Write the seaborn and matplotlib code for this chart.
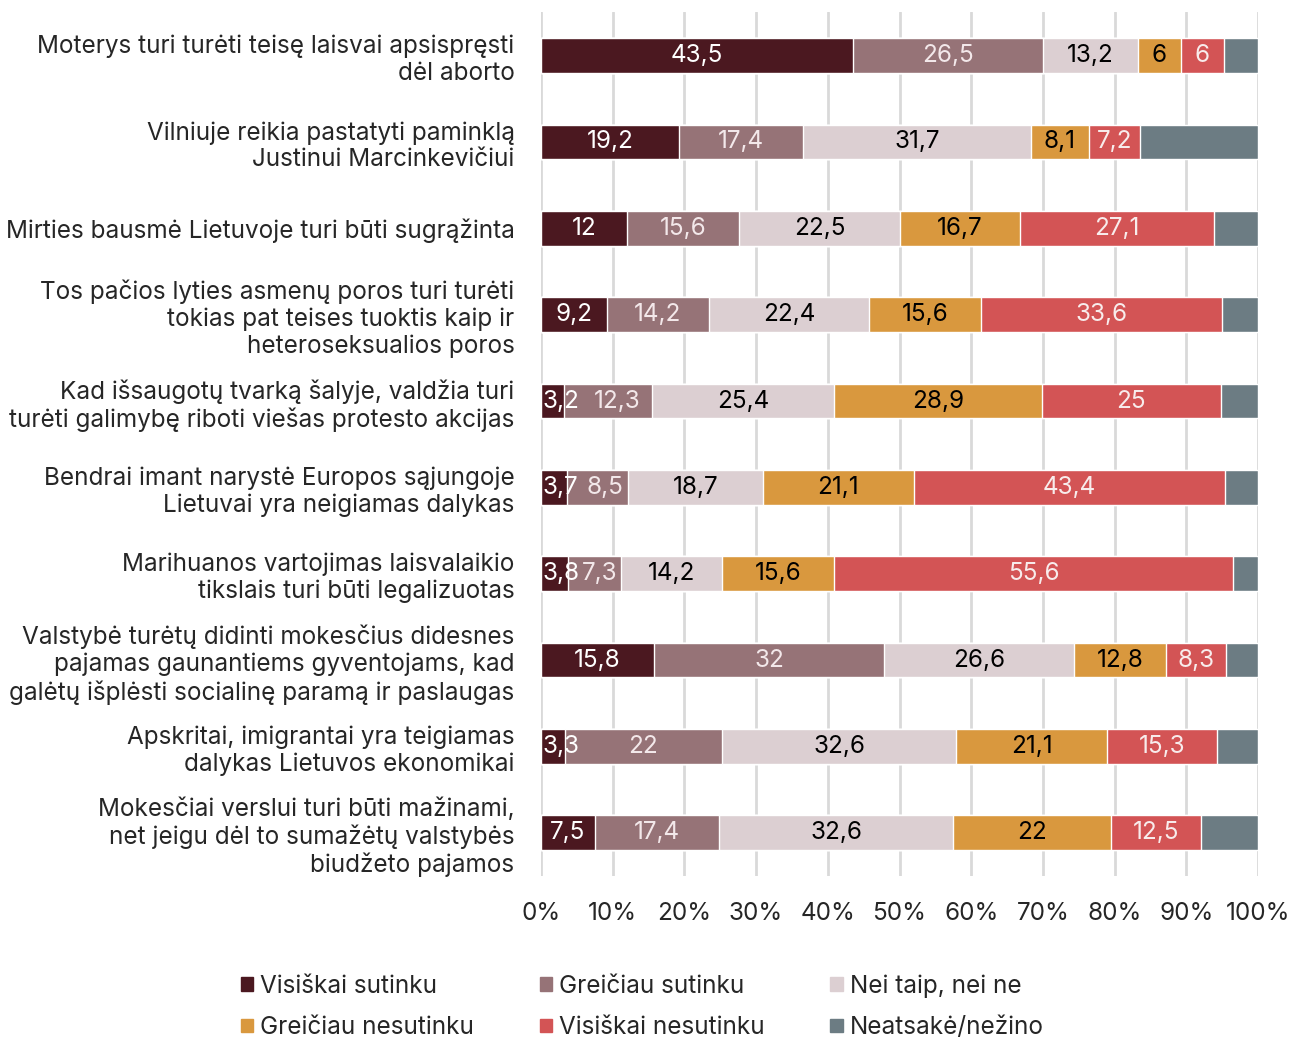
import matplotlib.pyplot as plt
import matplotlib.patches as mpatches
import seaborn as sns
import pandas as pd
import numpy as np

statements = [
    "Moterys turi turėti teisę laisvai apsispręsti\ndėl aborto",
    "Vilniuje reikia pastatyti paminklą\nJustinui Marcinkevičiui",
    "Mirties bausmė Lietuvoje turi būti sugrąžinta",
    "Tos pačios lyties asmenų poros turi turėti\ntokias pat teises tuoktis kaip ir\nheteroseksualios poros",
    "Kad išsaugotų tvarką šalyje, valdžia turi\nturėti galimybę riboti viešas protesto akcijas",
    "Bendrai imant narystė Europos sąjungoje\nLietuvai yra neigiamas dalykas",
    "Marihuanos vartojimas laisvalaikio\ntikslais turi būti legalizuotas",
    "Valstybė turėtų didinti mokesčius didesnes\npajamas gaunantiems gyventojams, kad\ngalėtų išplėsti socialinę paramą ir paslaugas",
    "Apskritai, imigrantai yra teigiamas\ndalykas Lietuvos ekonomikai",
    "Mokesčiai verslui turi būti mažinami,\nnet jeigu dėl to sumažėtų valstybės\nbiudžeto pajamos",
]

answers = ["Visiškai sutinku", "Greičiau sutinku", "Nei taip, nei ne",
           "Greičiau nesutinku", "Visiškai nesutinku", "Neatsakė/nežino"]

visiskai_sutinku = [43.5, 19.2, 12, 9.2, 3.2, 3.7, 3.8, 15.8, 3.3, 7.5]
greiciau_sutinku = [26.5, 17.4, 15.6, 14.2, 12.3, 8.5, 7.3, 32, 22, 17.4]
nei_taip_nei_ne = [13.2, 31.7, 22.5, 22.4, 25.4, 18.7, 14.2, 26.6, 32.6, 32.6]
greiciau_nesutinku = [6, 8.1, 16.7, 15.6, 28.9, 21.1, 15.6, 12.8, 21.1, 22]
visiskai_nesutinku = [6, 7.2, 27.1, 33.6, 25, 43.4, 55.6, 8.3, 15.3, 12.5]
neatsake = [4.8, 16.4, 6.1, 5.0, 5.2, 4.6, 3.5, 4.5, 5.7, 8.0]

series = [visiskai_sutinku, greiciau_sutinku, nei_taip_nei_ne,
          greiciau_nesutinku, visiskai_nesutinku, neatsake]

colors = ["#4b1820", "#967377", "#dccfd2", "#d9983e", "#d35455", "#6c7c83"]
text_colors = ["white", "#f3e8ea", "black", "black", "#f8ecec", None]

sns.set_style("white")
plt.rcParams['font.family'] = ['Inter', 'DejaVu Sans']
FS = 17.5

df = pd.DataFrame(dict(zip(answers, series)), index=statements)
cum = df.cumsum(axis=1)

fig = plt.figure(figsize=(12.91, 10.39), dpi=100)
ax = fig.add_axes([0.419, 0.157, 0.5555, 0.831])

# draw cumulative layers from the widest to the narrowest
for i in range(len(answers) - 1, -1, -1):
    d = pd.DataFrame({"stmt": statements, "val": cum[answers[i]].values})
    sns.barplot(data=d, x="val", y="stmt", orient="h", color=colors[i],
                saturation=1, width=0.4, edgecolor="white", linewidth=1,
                ax=ax, zorder=3)

def fmt(v):
    return f"{v:g}".replace(".", ",")

for i, ans in enumerate(answers):
    if text_colors[i] is None:
        continue
    for j, v in enumerate(df[ans].values):
        left = cum[ans].values[j] - v
        x = left + v / 2
        if i == 0 and v < 5:
            # narrow first segment: label starts at the bar edge
            ax.text(0.25, j, fmt(v), ha="left", va="center",
                    color=text_colors[i], fontsize=FS, zorder=5)
            continue
        if i == 1 and df[answers[0]].values[j] < 5 and v < 15:
            # nudge away from the overflowing first label
            x = x + 0.11 * v
        ax.text(x, j, fmt(v), ha="center", va="center",
                color=text_colors[i], fontsize=FS, zorder=5)

ax.set_xlim(0, 100)
ax.set_ylim(9.5, -0.5)
ax.set_xticks(np.arange(0, 101, 10))
ax.set_xticklabels([f"{t}%" for t in range(0, 101, 10)], fontsize=FS)
ax.tick_params(axis="x", length=0, pad=19)
ax.tick_params(axis="y", length=0, pad=19, labelsize=FS)
for lbl in ax.get_yticklabels():
    lbl.set_horizontalalignment("right")
    lbl.set_linespacing(1.2)
ax.set_xlabel("")
ax.set_ylabel("")
ax.grid(axis="x", color="#d9d9d9", linewidth=2, zorder=0)
ax.set_axisbelow(True)
for s in ax.spines.values():
    s.set_visible(False)

handles = [mpatches.Patch(color=c, label=a) for a, c in zip(answers, colors)]
order = [0, 3, 1, 4, 2, 5]
fig.legend(handles=[handles[k] for k in order], ncol=3, loc="center",
           bbox_to_anchor=(0.4975, 0.031), frameon=False, fontsize=FS,
           handlelength=0.5, handleheight=0.5, handletextpad=0.3,
           columnspacing=2.7, labelspacing=0.75)

fig.savefig("out.png", dpi=100)
